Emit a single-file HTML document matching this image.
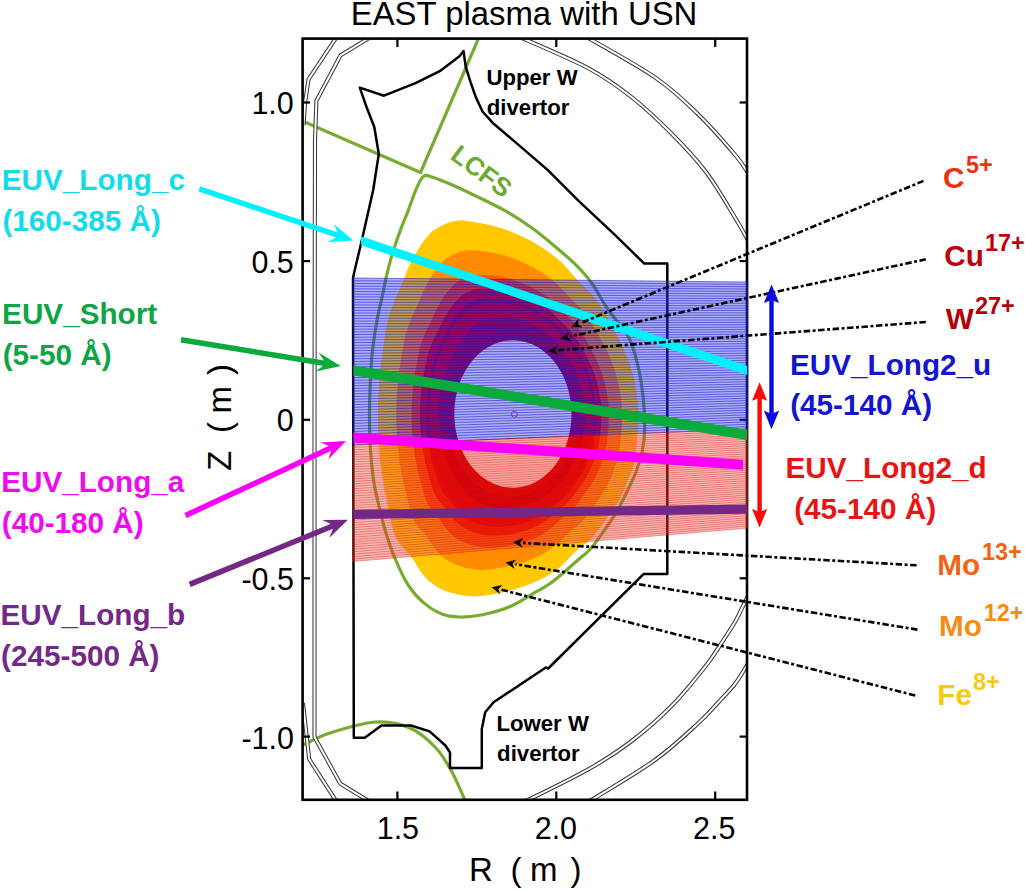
<!DOCTYPE html>
<html><head><meta charset="utf-8"><style>
html,body{margin:0;padding:0;background:#fff;width:1025px;height:890px;overflow:hidden}
svg{display:block}
text{font-family:"Liberation Sans",sans-serif}
.b{font-weight:bold}
</style></head><body>
<svg width="1025" height="890" viewBox="0 0 1025 890">
<defs><clipPath id="cb"><path d="M352.5,278.0 L748.3,282.0 L748.3,429.0 L352.5,445.0 Z"/></clipPath><clipPath id="cr"><path d="M352.5,445.0 L748.3,429.0 L748.3,528.0 L352.5,561.5 Z"/></clipPath><clipPath id="ax"><rect x="303" y="39" width="444" height="761"/></clipPath></defs>
<path d="M638.1,414.0 L637.9,407.5 L637.4,400.9 L636.7,394.4 L635.6,387.9 L634.3,381.5 L632.8,375.1 L630.9,368.7 L628.9,362.4 L626.5,356.2 L623.9,350.0 L621.1,343.8 L618.0,337.7 L614.8,331.5 L611.5,325.3 L608.0,319.0 L604.3,312.6 L600.3,306.2 L595.9,299.9 L591.0,293.9 L585.5,288.4 L579.8,282.9 L574.2,276.6 L568.4,269.7 L562.1,262.8 L555.1,256.8 L547.6,251.2 L539.6,246.0 L531.2,241.1 L522.3,236.6 L513.0,232.4 L503.3,228.7 L493.2,225.7 L482.8,223.4 L472.1,221.7 L461.1,220.3 L450.6,221.8 L440.8,225.9 L431.8,231.6 L424.4,240.1 L418.0,249.4 L412.5,259.2 L407.7,269.1 L403.9,279.3 L400.2,288.7 L396.2,297.2 L392.7,305.7 L389.6,314.1 L387.4,322.7 L385.8,331.4 L384.5,339.8 L383.3,347.9 L382.2,355.8 L381.2,363.4 L380.4,370.9 L379.7,378.3 L379.2,385.6 L378.7,392.7 L378.3,399.8 L378.1,406.9 L378.0,414.0 L378.0,421.1 L378.1,428.2 L378.4,435.3 L378.8,442.5 L379.4,449.8 L380.1,457.2 L380.9,464.7 L381.9,472.4 L383.0,480.2 L384.4,488.2 L386.0,496.5 L387.9,504.9 L389.8,513.8 L391.6,523.3 L394.0,533.0 L398.1,541.6 L404.0,548.6 L410.3,555.3 L415.7,563.8 L421.4,572.7 L428.2,580.4 L436.2,586.5 L445.1,590.9 L454.6,593.7 L464.3,595.7 L474.2,596.6 L484.2,595.8 L494.1,594.2 L503.7,592.2 L513.0,589.8 L522.1,586.9 L530.8,583.7 L539.3,580.1 L547.4,575.9 L555.1,571.1 L562.1,565.2 L568.5,558.7 L574.6,552.3 L580.8,547.1 L587.3,542.6 L592.8,536.8 L597.6,530.4 L602.1,524.0 L606.5,517.9 L610.9,511.9 L615.2,506.0 L619.1,499.9 L622.4,493.5 L625.3,486.9 L627.9,480.3 L630.5,473.9 L632.9,467.4 L634.4,460.6 L635.4,453.8 L636.2,447.0 L636.8,440.3 L637.3,433.7 L637.7,427.1 L638.0,420.6Z" fill="#FFC800"/>
<path d="M622.1,414.0 L621.9,408.3 L621.6,402.6 L620.9,396.9 L620.1,391.2 L619.0,385.6 L617.6,380.0 L616.1,374.4 L614.3,368.9 L612.3,363.4 L610.1,358.0 L607.6,352.6 L605.0,347.2 L602.2,341.8 L599.3,336.3 L596.2,330.8 L592.9,325.3 L589.4,319.7 L585.5,314.2 L581.2,309.0 L576.4,304.3 L571.4,299.5 L566.4,294.1 L561.2,288.4 L555.7,282.7 L549.5,277.8 L542.9,273.2 L536.0,269.0 L528.7,265.0 L521.0,261.5 L513.0,258.3 L504.7,255.5 L496.1,253.3 L487.3,251.8 L478.3,250.7 L469.1,250.0 L460.2,251.5 L452.0,255.1 L444.4,259.9 L438.0,266.9 L432.5,274.6 L427.7,282.6 L423.5,290.8 L420.0,299.2 L416.7,307.1 L413.2,314.2 L410.1,321.4 L407.4,328.5 L405.3,335.8 L403.8,343.1 L402.5,350.2 L401.4,357.1 L400.3,363.8 L399.3,370.4 L398.6,376.8 L397.9,383.2 L397.4,389.4 L397.0,395.6 L396.6,401.8 L396.4,407.9 L396.3,414.0 L396.3,420.1 L396.5,426.2 L396.7,432.4 L397.1,438.6 L397.7,444.9 L398.3,451.3 L399.1,457.7 L400.1,464.3 L401.2,471.0 L402.5,477.8 L404.0,484.8 L405.7,492.0 L407.5,499.4 L409.3,507.4 L411.6,515.4 L415.1,522.7 L420.1,528.7 L425.5,534.5 L430.1,541.6 L435.1,548.9 L440.9,555.4 L447.8,560.5 L455.3,564.4 L463.3,567.0 L471.5,568.9 L479.9,569.9 L488.4,569.6 L496.8,568.5 L505.0,567.1 L513.0,565.3 L520.8,563.1 L528.4,560.5 L535.7,557.6 L542.8,554.2 L549.5,550.1 L555.7,545.3 L561.3,539.9 L566.7,534.6 L572.1,530.1 L577.7,526.1 L582.5,521.0 L586.8,515.5 L590.8,510.0 L594.6,504.7 L598.4,499.4 L602.1,494.2 L605.4,488.8 L608.3,483.2 L610.8,477.5 L613.1,471.8 L615.3,466.1 L617.3,460.5 L618.7,454.6 L619.6,448.6 L620.3,442.8 L620.9,436.9 L621.4,431.2 L621.8,425.4 L622.0,419.7Z" fill="#FF8C00"/>
<path d="M608.8,414.0 L608.7,409.0 L608.3,404.0 L607.8,399.0 L607.1,394.0 L606.1,389.0 L605.0,384.1 L603.7,379.2 L602.2,374.3 L600.4,369.4 L598.5,364.6 L596.4,359.8 L594.1,355.1 L591.7,350.3 L589.1,345.5 L586.4,340.6 L583.4,335.8 L580.3,330.9 L576.8,326.2 L573.0,321.6 L568.7,317.4 L564.3,313.3 L559.9,308.8 L555.2,304.0 L550.3,299.3 L544.8,295.2 L539.0,291.5 L532.9,288.1 L526.6,285.0 L519.9,282.2 L513.0,279.8 L505.9,277.8 L498.5,276.3 L491.1,275.4 L483.4,274.9 L475.7,274.8 L468.3,276.3 L461.3,279.4 L454.9,283.5 L449.4,289.2 L444.6,295.5 L440.4,302.1 L436.6,308.9 L433.5,315.8 L430.5,322.3 L427.4,328.4 L424.6,334.4 L422.2,340.5 L420.3,346.6 L418.8,352.8 L417.6,358.9 L416.4,364.8 L415.4,370.5 L414.5,376.2 L413.7,381.7 L413.1,387.2 L412.6,392.7 L412.2,398.0 L411.8,403.4 L411.6,408.7 L411.6,414.0 L411.6,419.3 L411.7,424.6 L412.0,430.0 L412.4,435.4 L412.9,440.8 L413.6,446.3 L414.3,451.9 L415.2,457.5 L416.3,463.3 L417.5,469.1 L418.9,475.1 L420.6,481.2 L422.3,487.5 L424.0,494.1 L426.2,500.8 L429.3,507.0 L433.5,512.2 L438.1,517.1 L442.2,523.1 L446.5,529.1 L451.6,534.6 L457.4,538.9 L463.7,542.3 L470.5,544.7 L477.5,546.5 L484.6,547.6 L491.8,547.7 L499.0,547.1 L506.1,546.2 L513.0,544.9 L519.8,543.2 L526.4,541.2 L532.8,538.9 L538.9,536.0 L544.8,532.7 L550.3,528.7 L555.3,524.2 L560.1,519.8 L564.9,515.8 L569.7,512.3 L574.0,507.9 L577.8,503.1 L581.3,498.3 L584.7,493.6 L588.0,489.0 L591.2,484.4 L594.1,479.6 L596.6,474.7 L598.8,469.7 L600.7,464.7 L602.7,459.7 L604.4,454.7 L605.6,449.5 L606.5,444.4 L607.2,439.2 L607.7,434.1 L608.2,429.1 L608.5,424.0 L608.7,419.0Z" fill="#FF5500"/>
<path d="M601.4,414.0 L601.3,409.4 L601.1,404.7 L600.6,400.1 L599.9,395.5 L599.1,390.9 L598.1,386.4 L596.9,381.8 L595.5,377.3 L593.9,372.8 L592.2,368.3 L590.2,363.8 L588.1,359.4 L585.9,355.0 L583.5,350.5 L580.9,346.1 L578.2,341.6 L575.3,337.1 L572.0,332.7 L568.5,328.6 L564.6,324.7 L560.5,320.9 L556.3,316.8 L552.0,312.5 L547.3,308.4 L542.3,304.8 L536.9,301.6 L531.3,298.6 L525.4,296.0 L519.3,293.7 L513.0,291.7 L506.5,290.1 L499.9,289.0 L493.1,288.4 L486.3,288.2 L479.3,288.4 L472.7,289.9 L466.5,292.8 L460.7,296.5 L455.7,301.5 L451.3,307.1 L447.3,312.9 L443.8,318.8 L440.9,324.9 L438.0,330.8 L435.2,336.2 L432.6,341.6 L430.3,347.1 L428.5,352.6 L427.1,358.2 L425.8,363.7 L424.7,369.0 L423.7,374.2 L422.8,379.4 L422.1,384.4 L421.5,389.5 L420.9,394.4 L420.5,399.4 L420.2,404.2 L420.0,409.1 L419.9,414.0 L420.0,418.9 L420.1,423.8 L420.4,428.7 L420.8,433.6 L421.3,438.6 L421.9,443.6 L422.7,448.7 L423.6,453.8 L424.6,459.0 L425.8,464.4 L427.2,469.7 L428.7,475.2 L430.4,480.9 L432.1,486.8 L434.2,492.8 L437.1,498.3 L440.9,503.0 L445.0,507.6 L448.8,512.9 L452.8,518.3 L457.4,523.1 L462.7,527.0 L468.4,530.2 L474.5,532.5 L480.8,534.2 L487.2,535.4 L493.7,535.6 L500.2,535.3 L506.7,534.7 L513.0,533.7 L519.2,532.3 L525.3,530.6 L531.1,528.5 L536.8,526.1 L542.2,523.1 L547.3,519.6 L552.0,515.6 L556.5,511.6 L560.9,508.0 L565.3,504.7 L569.3,500.7 L572.8,496.3 L576.1,491.9 L579.2,487.6 L582.3,483.3 L585.2,479.0 L587.8,474.6 L590.1,470.0 L592.1,465.4 L593.9,460.7 L595.7,456.1 L597.3,451.5 L598.4,446.8 L599.2,442.0 L599.9,437.3 L600.4,432.6 L600.9,427.9 L601.2,423.3 L601.4,418.6Z" fill="#F01E00"/>
<path d="M596.1,414.0 L596.0,409.6 L595.8,405.3 L595.3,401.0 L594.7,396.6 L593.9,392.3 L593.0,388.0 L591.9,383.7 L590.6,379.4 L589.2,375.2 L587.5,371.0 L585.7,366.8 L583.8,362.6 L581.7,358.4 L579.4,354.2 L577.0,350.0 L574.4,345.8 L571.6,341.6 L568.6,337.5 L565.2,333.6 L561.5,330.0 L557.6,326.4 L553.7,322.6 L549.6,318.8 L545.1,315.1 L540.4,311.8 L535.3,308.9 L530.1,306.3 L524.6,303.9 L518.9,302.0 L513.0,300.3 L507.0,299.0 L500.8,298.2 L494.6,297.9 L488.3,297.9 L482.0,298.3 L475.9,299.8 L470.2,302.5 L464.9,305.9 L460.3,310.5 L456.1,315.5 L452.4,320.7 L449.1,326.1 L446.2,331.6 L443.5,336.9 L440.8,341.8 L438.4,346.8 L436.3,351.9 L434.5,357.0 L433.1,362.1 L431.8,367.1 L430.7,372.1 L429.7,376.9 L428.8,381.7 L428.1,386.4 L427.5,391.1 L427.0,395.7 L426.6,400.3 L426.3,404.9 L426.1,409.4 L426.1,414.0 L426.1,418.6 L426.3,423.1 L426.5,427.7 L426.9,432.3 L427.4,436.9 L428.0,441.6 L428.8,446.3 L429.6,451.1 L430.6,456.0 L431.8,460.9 L433.2,465.9 L434.7,470.9 L436.3,476.1 L438.0,481.5 L440.0,487.0 L442.8,492.0 L446.3,496.4 L450.1,500.6 L453.6,505.5 L457.4,510.3 L461.7,514.8 L466.5,518.4 L471.8,521.3 L477.4,523.6 L483.2,525.3 L489.1,526.5 L495.1,526.9 L501.1,526.8 L507.1,526.3 L513.0,525.5 L518.8,524.4 L524.4,522.9 L530.0,521.0 L535.3,518.8 L540.4,516.1 L545.2,513.0 L549.6,509.4 L553.8,505.7 L558.0,502.3 L562.2,499.2 L565.9,495.4 L569.2,491.3 L572.3,487.2 L575.3,483.2 L578.1,479.1 L580.8,475.0 L583.3,470.9 L585.4,466.6 L587.3,462.3 L589.0,457.9 L590.7,453.6 L592.1,449.2 L593.2,444.8 L594.0,440.3 L594.6,435.9 L595.2,431.5 L595.6,427.1 L595.9,422.7 L596.1,418.4Z" fill="#E10000"/>
<path d="M593.5,414.0 L593.4,409.8 L593.1,405.6 L592.7,401.4 L592.1,397.2 L591.4,393.0 L590.5,388.8 L589.4,384.7 L588.2,380.5 L586.8,376.4 L585.2,372.3 L583.5,368.2 L581.6,364.1 L579.6,360.1 L577.4,356.0 L575.0,352.0 L572.5,347.9 L569.8,343.9 L566.8,339.9 L563.6,336.1 L560.0,332.6 L556.2,329.2 L552.4,325.6 L548.4,321.9 L544.1,318.4 L539.4,315.3 L534.6,312.5 L529.5,310.1 L524.1,307.9 L518.7,306.1 L513.0,304.6 L507.2,303.5 L501.3,302.8 L495.4,302.6 L489.4,302.7 L483.3,303.2 L477.5,304.8 L472.1,307.4 L467.0,310.7 L462.5,314.9 L458.5,319.7 L454.9,324.6 L451.7,329.7 L448.9,334.9 L446.3,339.9 L443.7,344.7 L441.3,349.5 L439.2,354.3 L437.5,359.1 L436.1,364.0 L434.8,368.9 L433.7,373.6 L432.8,378.3 L431.9,382.9 L431.2,387.4 L430.6,391.9 L430.1,396.4 L429.7,400.8 L429.4,405.2 L429.2,409.6 L429.1,414.0 L429.2,418.4 L429.3,422.8 L429.6,427.2 L429.9,431.7 L430.4,436.1 L431.1,440.6 L431.8,445.2 L432.7,449.8 L433.7,454.4 L434.8,459.1 L436.1,463.9 L437.6,468.7 L439.3,473.7 L441.0,478.9 L443.0,484.0 L445.6,488.9 L449.0,493.1 L452.6,497.2 L456.0,501.8 L459.7,506.4 L463.8,510.6 L468.4,514.1 L473.5,516.9 L478.8,519.1 L484.4,520.8 L490.0,522.0 L495.8,522.5 L501.6,522.5 L507.3,522.1 L513.0,521.4 L518.6,520.4 L524.0,519.0 L529.4,517.3 L534.5,515.2 L539.4,512.7 L544.1,509.6 L548.4,506.2 L552.5,502.7 L556.6,499.5 L560.6,496.4 L564.1,492.8 L567.4,488.9 L570.4,484.9 L573.3,480.9 L576.0,477.0 L578.6,473.1 L581.0,469.0 L583.1,464.9 L584.9,460.7 L586.5,456.5 L588.1,452.3 L589.5,448.1 L590.6,443.8 L591.3,439.5 L592.0,435.2 L592.5,430.9 L592.9,426.7 L593.2,422.4 L593.4,418.2Z" fill="#D70005"/>
<path d="M584.8,414.0 L584.7,410.2 L584.5,406.5 L584.2,402.7 L583.7,399.0 L583.0,395.2 L582.3,391.5 L581.4,387.8 L580.3,384.0 L579.1,380.3 L577.7,376.6 L576.2,372.9 L574.6,369.3 L572.7,365.6 L570.8,362.0 L568.7,358.3 L566.4,354.7 L563.9,351.2 L561.2,347.7 L558.2,344.3 L555.0,341.2 L551.7,338.1 L548.1,335.1 L544.5,332.0 L540.6,329.2 L536.4,326.7 L532.0,324.4 L527.5,322.5 L522.8,320.9 L517.9,319.6 L513.0,318.6 L508.0,318.0 L502.9,317.8 L497.8,318.0 L492.7,318.5 L487.6,319.3 L482.7,320.9 L478.1,323.2 L473.8,326.0 L469.9,329.5 L466.4,333.3 L463.2,337.3 L460.3,341.4 L457.7,345.7 L455.2,349.8 L452.9,353.9 L450.8,358.0 L448.8,362.0 L447.2,366.2 L445.8,370.4 L444.6,374.5 L443.5,378.6 L442.6,382.6 L441.7,386.6 L441.0,390.6 L440.4,394.6 L439.9,398.5 L439.5,402.4 L439.3,406.3 L439.1,410.1 L439.0,414.0 L439.1,417.9 L439.2,421.8 L439.5,425.6 L439.9,429.5 L440.3,433.5 L440.9,437.4 L441.7,441.4 L442.5,445.4 L443.5,449.4 L444.6,453.5 L445.9,457.6 L447.3,461.7 L448.9,465.9 L450.5,470.2 L452.4,474.6 L454.8,478.6 L457.7,482.3 L460.8,485.9 L463.8,489.7 L467.1,493.5 L470.7,497.0 L474.7,500.0 L479.0,502.6 L483.6,504.6 L488.3,506.3 L493.1,507.6 L498.1,508.3 L503.1,508.6 L508.0,508.6 L513.0,508.2 L517.9,507.5 L522.7,506.5 L527.4,505.1 L532.0,503.4 L536.4,501.3 L540.6,498.9 L544.5,496.0 L548.2,493.1 L551.9,490.3 L555.4,487.4 L558.6,484.2 L561.5,480.8 L564.3,477.3 L566.8,473.8 L569.3,470.3 L571.5,466.7 L573.6,463.1 L575.4,459.4 L577.1,455.6 L578.5,451.8 L579.9,448.1 L581.1,444.3 L582.0,440.5 L582.8,436.7 L583.4,432.9 L583.9,429.1 L584.3,425.3 L584.6,421.5 L584.8,417.8Z" fill="#CD000F"/>
<path d="M577.5,414.0 L577.4,410.6 L577.2,407.2 L577.0,403.9 L576.5,400.5 L576.0,397.1 L575.3,393.7 L574.5,390.4 L573.6,387.0 L572.6,383.6 L571.4,380.3 L570.0,377.0 L568.6,373.6 L567.0,370.3 L565.2,367.0 L563.3,363.7 L561.2,360.5 L558.9,357.3 L556.4,354.2 L553.7,351.3 L550.9,348.4 L547.8,345.7 L544.6,343.1 L541.2,340.6 L537.6,338.3 L533.8,336.3 L529.9,334.5 L525.8,333.0 L521.6,331.9 L517.3,331.0 L513.0,330.5 L508.6,330.3 L504.2,330.5 L499.8,331.0 L495.5,331.8 L491.3,332.9 L487.2,334.5 L483.3,336.6 L479.6,339.0 L476.2,341.8 L473.1,344.8 L470.2,348.0 L467.5,351.4 L465.1,354.8 L462.8,358.3 L460.7,361.7 L458.7,365.1 L457.0,368.6 L455.4,372.2 L454.1,375.7 L452.9,379.3 L451.8,382.8 L450.9,386.3 L450.0,389.8 L449.3,393.3 L448.8,396.8 L448.3,400.2 L447.9,403.7 L447.6,407.1 L447.5,410.6 L447.4,414.0 L447.5,417.4 L447.6,420.9 L447.9,424.3 L448.3,427.8 L448.7,431.2 L449.3,434.7 L450.0,438.2 L450.8,441.7 L451.8,445.2 L452.9,448.7 L454.1,452.2 L455.5,455.8 L457.0,459.4 L458.6,462.9 L460.5,466.5 L462.6,470.0 L465.1,473.2 L467.7,476.3 L470.4,479.5 L473.4,482.7 L476.5,485.6 L480.0,488.1 L483.7,490.4 L487.5,492.4 L491.6,494.0 L495.7,495.3 L500.0,496.2 L504.3,496.8 L508.6,497.1 L513.0,497.0 L517.3,496.6 L521.6,495.8 L525.8,494.8 L529.9,493.4 L533.8,491.7 L537.6,489.7 L541.2,487.4 L544.6,485.0 L547.9,482.4 L551.0,479.8 L553.9,477.0 L556.6,474.0 L559.0,470.9 L561.4,467.7 L563.5,464.5 L565.5,461.3 L567.3,458.0 L569.0,454.7 L570.4,451.3 L571.7,447.9 L572.9,444.5 L574.0,441.2 L574.9,437.7 L575.6,434.3 L576.2,430.9 L576.6,427.5 L577.0,424.1 L577.3,420.8 L577.4,417.4Z" fill="#C8000A"/>
<path d="M571.5,414.0 L571.4,410.9 L571.3,407.9 L571.0,404.8 L570.7,401.7 L570.2,398.7 L569.6,395.6 L569.0,392.5 L568.2,389.4 L567.2,386.4 L566.2,383.3 L565.0,380.2 L563.7,377.2 L562.2,374.1 L560.6,371.1 L558.8,368.2 L556.9,365.3 L554.8,362.4 L552.5,359.6 L550.1,356.9 L547.4,354.4 L544.6,351.9 L541.6,349.7 L538.5,347.6 L535.2,345.7 L531.7,344.1 L528.1,342.7 L524.5,341.7 L520.7,340.9 L516.9,340.4 L513.0,340.2 L509.1,340.4 L505.3,340.8 L501.5,341.6 L497.8,342.7 L494.3,344.0 L490.8,345.7 L487.5,347.5 L484.3,349.6 L481.3,351.8 L478.5,354.3 L475.9,356.8 L473.4,359.5 L471.1,362.3 L469.0,365.1 L467.0,368.0 L465.3,371.0 L463.6,374.0 L462.2,377.1 L460.8,380.1 L459.6,383.2 L458.6,386.3 L457.7,389.4 L456.9,392.4 L456.2,395.5 L455.6,398.6 L455.1,401.7 L454.8,404.8 L454.5,407.9 L454.4,410.9 L454.3,414.0 L454.4,417.1 L454.5,420.1 L454.8,423.2 L455.1,426.3 L455.6,429.4 L456.2,432.5 L456.9,435.6 L457.7,438.6 L458.6,441.7 L459.6,444.8 L460.8,447.9 L462.2,450.9 L463.6,454.0 L465.3,457.0 L467.0,460.0 L469.0,462.9 L471.1,465.7 L473.4,468.5 L475.9,471.2 L478.5,473.7 L481.3,476.2 L484.3,478.4 L487.5,480.5 L490.8,482.3 L494.3,484.0 L497.8,485.3 L501.5,486.4 L505.3,487.2 L509.1,487.6 L513.0,487.8 L516.9,487.6 L520.7,487.1 L524.5,486.3 L528.1,485.3 L531.7,483.9 L535.2,482.3 L538.5,480.4 L541.6,478.3 L544.6,476.1 L547.4,473.6 L550.1,471.1 L552.5,468.4 L554.8,465.6 L556.9,462.7 L558.8,459.8 L560.6,456.9 L562.2,453.9 L563.7,450.8 L565.0,447.8 L566.2,444.7 L567.2,441.6 L568.2,438.6 L569.0,435.5 L569.6,432.4 L570.2,429.3 L570.7,426.3 L571.0,423.2 L571.3,420.1 L571.4,417.1Z" fill="#fff"/>
<g clip-path="url(#ax)">
<path d="M421.5,178.5 C421.0,179.3 419.9,180.9 418.7,183.6 C417.4,186.3 415.8,189.9 414.0,194.6 C412.2,199.3 409.8,206.4 407.7,211.9 C405.6,217.4 403.5,222.1 401.4,227.6 C399.3,233.1 397.0,239.4 395.2,244.9 C393.4,250.4 392.0,254.8 390.4,260.6 C388.8,266.4 387.1,273.2 385.7,279.5 C384.3,285.8 383.2,292.0 381.8,298.4 C380.4,304.8 378.8,311.3 377.5,318.0 C376.2,324.7 375.0,331.7 374.0,338.7 C373.0,345.7 372.3,351.4 371.6,360.0 C370.9,368.6 370.4,380.0 370.0,390.0 C369.6,400.0 369.4,410.0 369.5,420.0 C369.6,430.0 369.8,440.0 370.5,450.0 C371.2,460.0 372.2,471.0 373.5,480.0 C374.8,489.0 376.5,495.5 378.5,504.0 C380.5,512.5 382.6,521.9 385.4,531.0 C388.1,540.1 391.1,549.3 395.0,558.5 C398.9,567.7 403.9,578.5 408.8,586.0 C413.7,593.5 418.9,598.7 424.4,603.4 C429.9,608.1 436.1,611.7 442.0,614.0 C447.9,616.3 453.0,616.8 459.5,617.0 C466.0,617.2 472.9,616.6 481.0,615.0 C489.1,613.4 499.4,611.0 508.3,607.3 C517.2,603.6 527.8,596.6 534.6,592.7 C541.4,588.8 544.4,587.4 549.3,584.0 C554.2,580.6 559.2,576.2 564.0,572.2 C568.8,568.2 573.6,563.9 578.0,560.0 C582.4,556.1 586.7,552.9 590.4,549.0 C594.1,545.1 596.6,541.1 600.0,536.4 C603.4,531.7 607.6,525.8 611.0,520.6 C614.4,515.4 617.4,510.3 620.3,505.0 C623.2,499.7 625.6,494.5 628.2,489.0 C630.8,483.5 633.6,478.3 636.0,472.0 C638.4,465.7 640.8,458.3 642.3,451.0 C643.8,443.7 644.6,437.2 644.7,428.0 C644.8,418.8 644.2,406.7 643.0,396.0 C641.8,385.3 640.0,374.0 637.5,364.0 C635.0,354.0 633.0,345.2 628.0,336.0 C623.0,326.8 613.6,317.8 607.6,309.0 C601.6,300.2 597.3,290.9 592.0,283.5 C586.7,276.1 581.9,270.9 575.6,264.7 C569.4,258.4 561.9,252.2 554.5,246.0 C547.1,239.8 539.2,233.2 531.0,227.3 C522.8,221.5 515.5,216.6 505.4,210.9 C495.3,205.2 479.4,197.8 470.2,193.3 C461.0,188.8 456.4,186.7 450.0,184.0 C443.6,181.3 436.1,178.4 432.0,177.0 C427.9,175.6 427.2,175.1 425.5,175.3 C423.8,175.6 422.2,178.0 421.5,178.5 " fill="none" stroke="#77AC30" stroke-width="3.2"/>
<path d="M300,120 L420.5,172.5 L480,35" fill="none" stroke="#77AC30" stroke-width="3.2" stroke-linejoin="round"/>
<path d="M300.0,746.5 C305.0,744.2 317.3,737.1 330.0,733.0 C342.7,728.9 362.7,722.8 376.0,722.0 C389.3,721.2 400.2,723.8 410.0,728.0 C419.8,732.2 428.0,739.7 435.0,747.0 C442.0,754.3 446.7,762.3 452.0,772.0 C457.3,781.7 464.5,799.5 467.0,805.0 " fill="none" stroke="#77AC30" stroke-width="3.2"/>
<path d="M338.0,35.0 L308.5,79.4 L305.0,103.0 L303.5,125.0" fill="none" stroke="#3a3a3a" stroke-width="4.1" stroke-linejoin="round"/>
<path d="M338.0,35.0 L308.5,79.4 L305.0,103.0 L303.5,125.0" fill="none" stroke="#fff" stroke-width="2.0" stroke-linejoin="round"/>
<path d="M303.0,703.0 L309.2,759.1 L338.0,804.0" fill="none" stroke="#3a3a3a" stroke-width="4.1" stroke-linejoin="round"/>
<path d="M303.0,703.0 L309.2,759.1 L338.0,804.0" fill="none" stroke="#fff" stroke-width="2.0" stroke-linejoin="round"/>
<path d="M374.0,35.0 L340.6,55.3 L316.4,100.8 L315.0,140.0 L314.5,420.0 L314.5,737.0 L340.2,783.6 L372.0,803.0" fill="none" stroke="#3a3a3a" stroke-width="4.1" stroke-linejoin="round"/>
<path d="M374.0,35.0 L340.6,55.3 L316.4,100.8 L315.0,140.0 L314.5,420.0 L314.5,737.0 L340.2,783.6 L372.0,803.0" fill="none" stroke="#fff" stroke-width="2.0" stroke-linejoin="round"/>
<path d="M515.0,35.0 C527.1,40.5 568.1,57.5 587.5,67.8 C606.9,78.1 617.5,86.1 631.4,97.0 C645.3,107.9 658.6,120.5 671.0,133.0 C683.4,145.5 695.3,157.8 706.0,172.0 C716.7,186.2 728.0,206.0 735.3,218.0 C742.6,230.0 747.5,239.7 750.0,244.0 " fill="none" stroke="#3a3a3a" stroke-width="4.1" stroke-linejoin="round"/>
<path d="M515.0,35.0 C527.1,40.5 568.1,57.5 587.5,67.8 C606.9,78.1 617.5,86.1 631.4,97.0 C645.3,107.9 658.6,120.5 671.0,133.0 C683.4,145.5 695.3,157.8 706.0,172.0 C716.7,186.2 728.0,206.0 735.3,218.0 C742.6,230.0 747.5,239.7 750.0,244.0 " fill="none" stroke="#fff" stroke-width="2.0" stroke-linejoin="round"/>
<path d="M583.0,35.0 C595.0,42.1 636.0,64.3 655.0,77.4 C674.0,90.5 683.9,100.5 697.3,113.4 C710.7,126.3 726.5,144.6 735.3,155.0 C744.1,165.4 747.5,172.5 750.0,176.0 " fill="none" stroke="#3a3a3a" stroke-width="4.1" stroke-linejoin="round"/>
<path d="M583.0,35.0 C595.0,42.1 636.0,64.3 655.0,77.4 C674.0,90.5 683.9,100.5 697.3,113.4 C710.7,126.3 726.5,144.6 735.3,155.0 C744.1,165.4 747.5,172.5 750.0,176.0 " fill="none" stroke="#fff" stroke-width="2.0" stroke-linejoin="round"/>
<path d="M520.0,804.0 C531.3,798.2 569.4,780.0 588.0,769.5 C606.6,759.0 617.7,751.7 631.7,741.0 C645.7,730.3 659.7,718.0 672.0,705.5 C684.3,693.0 697.6,676.2 705.5,666.3 C713.4,656.4 714.7,653.4 719.6,646.0 C724.5,638.6 731.0,628.8 735.1,621.8 C739.2,614.8 741.5,609.0 744.0,604.0 C746.5,599.0 749.0,594.0 750.0,592.0 " fill="none" stroke="#3a3a3a" stroke-width="4.1" stroke-linejoin="round"/>
<path d="M520.0,804.0 C531.3,798.2 569.4,780.0 588.0,769.5 C606.6,759.0 617.7,751.7 631.7,741.0 C645.7,730.3 659.7,718.0 672.0,705.5 C684.3,693.0 697.6,676.2 705.5,666.3 C713.4,656.4 714.7,653.4 719.6,646.0 C724.5,638.6 731.0,628.8 735.1,621.8 C739.2,614.8 741.5,609.0 744.0,604.0 C746.5,599.0 749.0,594.0 750.0,592.0 " fill="none" stroke="#fff" stroke-width="2.0" stroke-linejoin="round"/>
<path d="M585.0,804.0 C596.4,796.8 634.9,774.3 653.6,761.0 C672.3,747.7 686.4,734.0 697.4,724.0 C708.4,714.0 713.4,707.6 719.6,701.0 C725.8,694.4 730.2,690.0 734.5,684.5 C738.8,679.0 742.7,672.1 745.3,668.0 C747.9,663.9 749.2,661.3 750.0,660.0 " fill="none" stroke="#3a3a3a" stroke-width="4.1" stroke-linejoin="round"/>
<path d="M585.0,804.0 C596.4,796.8 634.9,774.3 653.6,761.0 C672.3,747.7 686.4,734.0 697.4,724.0 C708.4,714.0 713.4,707.6 719.6,701.0 C725.8,694.4 730.2,690.0 734.5,684.5 C738.8,679.0 742.7,672.1 745.3,668.0 C747.9,663.9 749.2,661.3 750.0,660.0 " fill="none" stroke="#fff" stroke-width="2.0" stroke-linejoin="round"/>
</g>
<path d="M353.0,278.0 L354.0,273.2 L362.0,239.5 L373.2,190.0 L378.8,154.0 L374.3,127.0 L367.0,108.3 L359.8,87.6 L384.0,95.7 L415.5,83.1 L440.7,70.6 L459.5,56.2 L463.5,51.1 L465.8,67.0 L470.3,81.3 L475.7,96.9 L482.5,111.5 L493.7,123.8 L516.2,142.9 L547.6,169.9 L579.1,201.3 L612.8,232.8 L644.3,263.6 L667.3,263.6 L667.3,574.1 L643.5,574.1 L548.2,668.5 L545.8,667.5 L493.6,702.2 L485.2,712.3 L481.8,729.0 L481.8,767.9 L450.0,767.9 L450.0,752.5 L445.4,745.5 L429.6,731.4 L411.0,725.5 L381.5,725.5 L364.7,737.8 L353.8,737.8 L353.0,278.0" fill="none" stroke="#000" stroke-width="2.5" stroke-linejoin="round"/>
<rect x="302.6" y="38.6" width="444.4" height="761.2" fill="none" stroke="#000" stroke-width="2.6"/>
<line x1="302.6" y1="102.5" x2="310" y2="102.5" stroke="#000" stroke-width="2.2"/>
<line x1="747" y1="102.5" x2="739.6" y2="102.5" stroke="#000" stroke-width="2.2"/>
<line x1="302.6" y1="261.1" x2="310" y2="261.1" stroke="#000" stroke-width="2.2"/>
<line x1="747" y1="261.1" x2="739.6" y2="261.1" stroke="#000" stroke-width="2.2"/>
<line x1="302.6" y1="419.8" x2="310" y2="419.8" stroke="#000" stroke-width="2.2"/>
<line x1="747" y1="419.8" x2="739.6" y2="419.8" stroke="#000" stroke-width="2.2"/>
<line x1="302.6" y1="578.3" x2="310" y2="578.3" stroke="#000" stroke-width="2.2"/>
<line x1="747" y1="578.3" x2="739.6" y2="578.3" stroke="#000" stroke-width="2.2"/>
<line x1="302.6" y1="736.6" x2="310" y2="736.6" stroke="#000" stroke-width="2.2"/>
<line x1="747" y1="736.6" x2="739.6" y2="736.6" stroke="#000" stroke-width="2.2"/>
<line x1="397.4" y1="799.8" x2="397.4" y2="791.5" stroke="#000" stroke-width="2.2"/>
<line x1="397.4" y1="38.6" x2="397.4" y2="47" stroke="#000" stroke-width="2.2"/>
<line x1="556.3" y1="799.8" x2="556.3" y2="791.5" stroke="#000" stroke-width="2.2"/>
<line x1="556.3" y1="38.6" x2="556.3" y2="47" stroke="#000" stroke-width="2.2"/>
<line x1="715.2" y1="799.8" x2="715.2" y2="791.5" stroke="#000" stroke-width="2.2"/>
<line x1="715.2" y1="38.6" x2="715.2" y2="47" stroke="#000" stroke-width="2.2"/>
<path d="M352.5,278.0 L748.3,282.0 L748.3,429.0 L352.5,445.0Z" fill="rgba(45,45,250,0.39)"/>
<path d="M352.5,445.0 L748.3,429.0 L748.3,528.0 L352.5,561.5Z" fill="rgba(255,55,45,0.36)"/>
<g clip-path="url(#cb)">
<path d="M638.1,414.0 L637.9,407.5 L637.4,400.9 L636.7,394.4 L635.6,387.9 L634.3,381.5 L632.8,375.1 L630.9,368.7 L628.9,362.4 L626.5,356.2 L623.9,350.0 L621.1,343.8 L618.0,337.7 L614.8,331.5 L611.5,325.3 L608.0,319.0 L604.3,312.6 L600.3,306.2 L595.9,299.9 L591.0,293.9 L585.5,288.4 L579.8,282.9 L574.2,276.6 L568.4,269.7 L562.1,262.8 L555.1,256.8 L547.6,251.2 L539.6,246.0 L531.2,241.1 L522.3,236.6 L513.0,232.4 L503.3,228.7 L493.2,225.7 L482.8,223.4 L472.1,221.7 L461.1,220.3 L450.6,221.8 L440.8,225.9 L431.8,231.6 L424.4,240.1 L418.0,249.4 L412.5,259.2 L407.7,269.1 L403.9,279.3 L400.2,288.7 L396.2,297.2 L392.7,305.7 L389.6,314.1 L387.4,322.7 L385.8,331.4 L384.5,339.8 L383.3,347.9 L382.2,355.8 L381.2,363.4 L380.4,370.9 L379.7,378.3 L379.2,385.6 L378.7,392.7 L378.3,399.8 L378.1,406.9 L378.0,414.0 L378.0,421.1 L378.1,428.2 L378.4,435.3 L378.8,442.5 L379.4,449.8 L380.1,457.2 L380.9,464.7 L381.9,472.4 L383.0,480.2 L384.4,488.2 L386.0,496.5 L387.9,504.9 L389.8,513.8 L391.6,523.3 L394.0,533.0 L398.1,541.6 L404.0,548.6 L410.3,555.3 L415.7,563.8 L421.4,572.7 L428.2,580.4 L436.2,586.5 L445.1,590.9 L454.6,593.7 L464.3,595.7 L474.2,596.6 L484.2,595.8 L494.1,594.2 L503.7,592.2 L513.0,589.8 L522.1,586.9 L530.8,583.7 L539.3,580.1 L547.4,575.9 L555.1,571.1 L562.1,565.2 L568.5,558.7 L574.6,552.3 L580.8,547.1 L587.3,542.6 L592.8,536.8 L597.6,530.4 L602.1,524.0 L606.5,517.9 L610.9,511.9 L615.2,506.0 L619.1,499.9 L622.4,493.5 L625.3,486.9 L627.9,480.3 L630.5,473.9 L632.9,467.4 L634.4,460.6 L635.4,453.8 L636.2,447.0 L636.8,440.3 L637.3,433.7 L637.7,427.1 L638.0,420.6Z" fill="#C39B4B"/>
<path d="M622.1,414.0 L621.9,408.3 L621.6,402.6 L620.9,396.9 L620.1,391.2 L619.0,385.6 L617.6,380.0 L616.1,374.4 L614.3,368.9 L612.3,363.4 L610.1,358.0 L607.6,352.6 L605.0,347.2 L602.2,341.8 L599.3,336.3 L596.2,330.8 L592.9,325.3 L589.4,319.7 L585.5,314.2 L581.2,309.0 L576.4,304.3 L571.4,299.5 L566.4,294.1 L561.2,288.4 L555.7,282.7 L549.5,277.8 L542.9,273.2 L536.0,269.0 L528.7,265.0 L521.0,261.5 L513.0,258.3 L504.7,255.5 L496.1,253.3 L487.3,251.8 L478.3,250.7 L469.1,250.0 L460.2,251.5 L452.0,255.1 L444.4,259.9 L438.0,266.9 L432.5,274.6 L427.7,282.6 L423.5,290.8 L420.0,299.2 L416.7,307.1 L413.2,314.2 L410.1,321.4 L407.4,328.5 L405.3,335.8 L403.8,343.1 L402.5,350.2 L401.4,357.1 L400.3,363.8 L399.3,370.4 L398.6,376.8 L397.9,383.2 L397.4,389.4 L397.0,395.6 L396.6,401.8 L396.4,407.9 L396.3,414.0 L396.3,420.1 L396.5,426.2 L396.7,432.4 L397.1,438.6 L397.7,444.9 L398.3,451.3 L399.1,457.7 L400.1,464.3 L401.2,471.0 L402.5,477.8 L404.0,484.8 L405.7,492.0 L407.5,499.4 L409.3,507.4 L411.6,515.4 L415.1,522.7 L420.1,528.7 L425.5,534.5 L430.1,541.6 L435.1,548.9 L440.9,555.4 L447.8,560.5 L455.3,564.4 L463.3,567.0 L471.5,568.9 L479.9,569.9 L488.4,569.6 L496.8,568.5 L505.0,567.1 L513.0,565.3 L520.8,563.1 L528.4,560.5 L535.7,557.6 L542.8,554.2 L549.5,550.1 L555.7,545.3 L561.3,539.9 L566.7,534.6 L572.1,530.1 L577.7,526.1 L582.5,521.0 L586.8,515.5 L590.8,510.0 L594.6,504.7 L598.4,499.4 L602.1,494.2 L605.4,488.8 L608.3,483.2 L610.8,477.5 L613.1,471.8 L615.3,466.1 L617.3,460.5 L618.7,454.6 L619.6,448.6 L620.3,442.8 L620.9,436.9 L621.4,431.2 L621.8,425.4 L622.0,419.7Z" fill="#B9645F"/>
<path d="M608.8,414.0 L608.7,409.0 L608.3,404.0 L607.8,399.0 L607.1,394.0 L606.1,389.0 L605.0,384.1 L603.7,379.2 L602.2,374.3 L600.4,369.4 L598.5,364.6 L596.4,359.8 L594.1,355.1 L591.7,350.3 L589.1,345.5 L586.4,340.6 L583.4,335.8 L580.3,330.9 L576.8,326.2 L573.0,321.6 L568.7,317.4 L564.3,313.3 L559.9,308.8 L555.2,304.0 L550.3,299.3 L544.8,295.2 L539.0,291.5 L532.9,288.1 L526.6,285.0 L519.9,282.2 L513.0,279.8 L505.9,277.8 L498.5,276.3 L491.1,275.4 L483.4,274.9 L475.7,274.8 L468.3,276.3 L461.3,279.4 L454.9,283.5 L449.4,289.2 L444.6,295.5 L440.4,302.1 L436.6,308.9 L433.5,315.8 L430.5,322.3 L427.4,328.4 L424.6,334.4 L422.2,340.5 L420.3,346.6 L418.8,352.8 L417.6,358.9 L416.4,364.8 L415.4,370.5 L414.5,376.2 L413.7,381.7 L413.1,387.2 L412.6,392.7 L412.2,398.0 L411.8,403.4 L411.6,408.7 L411.6,414.0 L411.6,419.3 L411.7,424.6 L412.0,430.0 L412.4,435.4 L412.9,440.8 L413.6,446.3 L414.3,451.9 L415.2,457.5 L416.3,463.3 L417.5,469.1 L418.9,475.1 L420.6,481.2 L422.3,487.5 L424.0,494.1 L426.2,500.8 L429.3,507.0 L433.5,512.2 L438.1,517.1 L442.2,523.1 L446.5,529.1 L451.6,534.6 L457.4,538.9 L463.7,542.3 L470.5,544.7 L477.5,546.5 L484.6,547.6 L491.8,547.7 L499.0,547.1 L506.1,546.2 L513.0,544.9 L519.8,543.2 L526.4,541.2 L532.8,538.9 L538.9,536.0 L544.8,532.7 L550.3,528.7 L555.3,524.2 L560.1,519.8 L564.9,515.8 L569.7,512.3 L574.0,507.9 L577.8,503.1 L581.3,498.3 L584.7,493.6 L588.0,489.0 L591.2,484.4 L594.1,479.6 L596.6,474.7 L598.8,469.7 L600.7,464.7 L602.7,459.7 L604.4,454.7 L605.6,449.5 L606.5,444.4 L607.2,439.2 L607.7,434.1 L608.2,429.1 L608.5,424.0 L608.7,419.0Z" fill="#B43258"/>
<path d="M601.4,414.0 L601.3,409.4 L601.1,404.7 L600.6,400.1 L599.9,395.5 L599.1,390.9 L598.1,386.4 L596.9,381.8 L595.5,377.3 L593.9,372.8 L592.2,368.3 L590.2,363.8 L588.1,359.4 L585.9,355.0 L583.5,350.5 L580.9,346.1 L578.2,341.6 L575.3,337.1 L572.0,332.7 L568.5,328.6 L564.6,324.7 L560.5,320.9 L556.3,316.8 L552.0,312.5 L547.3,308.4 L542.3,304.8 L536.9,301.6 L531.3,298.6 L525.4,296.0 L519.3,293.7 L513.0,291.7 L506.5,290.1 L499.9,289.0 L493.1,288.4 L486.3,288.2 L479.3,288.4 L472.7,289.9 L466.5,292.8 L460.7,296.5 L455.7,301.5 L451.3,307.1 L447.3,312.9 L443.8,318.8 L440.9,324.9 L438.0,330.8 L435.2,336.2 L432.6,341.6 L430.3,347.1 L428.5,352.6 L427.1,358.2 L425.8,363.7 L424.7,369.0 L423.7,374.2 L422.8,379.4 L422.1,384.4 L421.5,389.5 L420.9,394.4 L420.5,399.4 L420.2,404.2 L420.0,409.1 L419.9,414.0 L420.0,418.9 L420.1,423.8 L420.4,428.7 L420.8,433.6 L421.3,438.6 L421.9,443.6 L422.7,448.7 L423.6,453.8 L424.6,459.0 L425.8,464.4 L427.2,469.7 L428.7,475.2 L430.4,480.9 L432.1,486.8 L434.2,492.8 L437.1,498.3 L440.9,503.0 L445.0,507.6 L448.8,512.9 L452.8,518.3 L457.4,523.1 L462.7,527.0 L468.4,530.2 L474.5,532.5 L480.8,534.2 L487.2,535.4 L493.7,535.6 L500.2,535.3 L506.7,534.7 L513.0,533.7 L519.2,532.3 L525.3,530.6 L531.1,528.5 L536.8,526.1 L542.2,523.1 L547.3,519.6 L552.0,515.6 L556.5,511.6 L560.9,508.0 L565.3,504.7 L569.3,500.7 L572.8,496.3 L576.1,491.9 L579.2,487.6 L582.3,483.3 L585.2,479.0 L587.8,474.6 L590.1,470.0 L592.1,465.4 L593.9,460.7 L595.7,456.1 L597.3,451.5 L598.4,446.8 L599.2,442.0 L599.9,437.3 L600.4,432.6 L600.9,427.9 L601.2,423.3 L601.4,418.6Z" fill="#A00A5A"/>
<path d="M596.1,414.0 L596.0,409.6 L595.8,405.3 L595.3,401.0 L594.7,396.6 L593.9,392.3 L593.0,388.0 L591.9,383.7 L590.6,379.4 L589.2,375.2 L587.5,371.0 L585.7,366.8 L583.8,362.6 L581.7,358.4 L579.4,354.2 L577.0,350.0 L574.4,345.8 L571.6,341.6 L568.6,337.5 L565.2,333.6 L561.5,330.0 L557.6,326.4 L553.7,322.6 L549.6,318.8 L545.1,315.1 L540.4,311.8 L535.3,308.9 L530.1,306.3 L524.6,303.9 L518.9,302.0 L513.0,300.3 L507.0,299.0 L500.8,298.2 L494.6,297.9 L488.3,297.9 L482.0,298.3 L475.9,299.8 L470.2,302.5 L464.9,305.9 L460.3,310.5 L456.1,315.5 L452.4,320.7 L449.1,326.1 L446.2,331.6 L443.5,336.9 L440.8,341.8 L438.4,346.8 L436.3,351.9 L434.5,357.0 L433.1,362.1 L431.8,367.1 L430.7,372.1 L429.7,376.9 L428.8,381.7 L428.1,386.4 L427.5,391.1 L427.0,395.7 L426.6,400.3 L426.3,404.9 L426.1,409.4 L426.1,414.0 L426.1,418.6 L426.3,423.1 L426.5,427.7 L426.9,432.3 L427.4,436.9 L428.0,441.6 L428.8,446.3 L429.6,451.1 L430.6,456.0 L431.8,460.9 L433.2,465.9 L434.7,470.9 L436.3,476.1 L438.0,481.5 L440.0,487.0 L442.8,492.0 L446.3,496.4 L450.1,500.6 L453.6,505.5 L457.4,510.3 L461.7,514.8 L466.5,518.4 L471.8,521.3 L477.4,523.6 L483.2,525.3 L489.1,526.5 L495.1,526.9 L501.1,526.8 L507.1,526.3 L513.0,525.5 L518.8,524.4 L524.4,522.9 L530.0,521.0 L535.3,518.8 L540.4,516.1 L545.2,513.0 L549.6,509.4 L553.8,505.7 L558.0,502.3 L562.2,499.2 L565.9,495.4 L569.2,491.3 L572.3,487.2 L575.3,483.2 L578.1,479.1 L580.8,475.0 L583.3,470.9 L585.4,466.6 L587.3,462.3 L589.0,457.9 L590.7,453.6 L592.1,449.2 L593.2,444.8 L594.0,440.3 L594.6,435.9 L595.2,431.5 L595.6,427.1 L595.9,422.7 L596.1,418.4Z" fill="#820A6E"/>
<path d="M593.5,414.0 L593.4,409.8 L593.1,405.6 L592.7,401.4 L592.1,397.2 L591.4,393.0 L590.5,388.8 L589.4,384.7 L588.2,380.5 L586.8,376.4 L585.2,372.3 L583.5,368.2 L581.6,364.1 L579.6,360.1 L577.4,356.0 L575.0,352.0 L572.5,347.9 L569.8,343.9 L566.8,339.9 L563.6,336.1 L560.0,332.6 L556.2,329.2 L552.4,325.6 L548.4,321.9 L544.1,318.4 L539.4,315.3 L534.6,312.5 L529.5,310.1 L524.1,307.9 L518.7,306.1 L513.0,304.6 L507.2,303.5 L501.3,302.8 L495.4,302.6 L489.4,302.7 L483.3,303.2 L477.5,304.8 L472.1,307.4 L467.0,310.7 L462.5,314.9 L458.5,319.7 L454.9,324.6 L451.7,329.7 L448.9,334.9 L446.3,339.9 L443.7,344.7 L441.3,349.5 L439.2,354.3 L437.5,359.1 L436.1,364.0 L434.8,368.9 L433.7,373.6 L432.8,378.3 L431.9,382.9 L431.2,387.4 L430.6,391.9 L430.1,396.4 L429.7,400.8 L429.4,405.2 L429.2,409.6 L429.1,414.0 L429.2,418.4 L429.3,422.8 L429.6,427.2 L429.9,431.7 L430.4,436.1 L431.1,440.6 L431.8,445.2 L432.7,449.8 L433.7,454.4 L434.8,459.1 L436.1,463.9 L437.6,468.7 L439.3,473.7 L441.0,478.9 L443.0,484.0 L445.6,488.9 L449.0,493.1 L452.6,497.2 L456.0,501.8 L459.7,506.4 L463.8,510.6 L468.4,514.1 L473.5,516.9 L478.8,519.1 L484.4,520.8 L490.0,522.0 L495.8,522.5 L501.6,522.5 L507.3,522.1 L513.0,521.4 L518.6,520.4 L524.0,519.0 L529.4,517.3 L534.5,515.2 L539.4,512.7 L544.1,509.6 L548.4,506.2 L552.5,502.7 L556.6,499.5 L560.6,496.4 L564.1,492.8 L567.4,488.9 L570.4,484.9 L573.3,480.9 L576.0,477.0 L578.6,473.1 L581.0,469.0 L583.1,464.9 L584.9,460.7 L586.5,456.5 L588.1,452.3 L589.5,448.1 L590.6,443.8 L591.3,439.5 L592.0,435.2 L592.5,430.9 L592.9,426.7 L593.2,422.4 L593.4,418.2Z" fill="#A0055A"/>
<path d="M584.8,414.0 L584.7,410.2 L584.5,406.5 L584.2,402.7 L583.7,399.0 L583.0,395.2 L582.3,391.5 L581.4,387.8 L580.3,384.0 L579.1,380.3 L577.7,376.6 L576.2,372.9 L574.6,369.3 L572.7,365.6 L570.8,362.0 L568.7,358.3 L566.4,354.7 L563.9,351.2 L561.2,347.7 L558.2,344.3 L555.0,341.2 L551.7,338.1 L548.1,335.1 L544.5,332.0 L540.6,329.2 L536.4,326.7 L532.0,324.4 L527.5,322.5 L522.8,320.9 L517.9,319.6 L513.0,318.6 L508.0,318.0 L502.9,317.8 L497.8,318.0 L492.7,318.5 L487.6,319.3 L482.7,320.9 L478.1,323.2 L473.8,326.0 L469.9,329.5 L466.4,333.3 L463.2,337.3 L460.3,341.4 L457.7,345.7 L455.2,349.8 L452.9,353.9 L450.8,358.0 L448.8,362.0 L447.2,366.2 L445.8,370.4 L444.6,374.5 L443.5,378.6 L442.6,382.6 L441.7,386.6 L441.0,390.6 L440.4,394.6 L439.9,398.5 L439.5,402.4 L439.3,406.3 L439.1,410.1 L439.0,414.0 L439.1,417.9 L439.2,421.8 L439.5,425.6 L439.9,429.5 L440.3,433.5 L440.9,437.4 L441.7,441.4 L442.5,445.4 L443.5,449.4 L444.6,453.5 L445.9,457.6 L447.3,461.7 L448.9,465.9 L450.5,470.2 L452.4,474.6 L454.8,478.6 L457.7,482.3 L460.8,485.9 L463.8,489.7 L467.1,493.5 L470.7,497.0 L474.7,500.0 L479.0,502.6 L483.6,504.6 L488.3,506.3 L493.1,507.6 L498.1,508.3 L503.1,508.6 L508.0,508.6 L513.0,508.2 L517.9,507.5 L522.7,506.5 L527.4,505.1 L532.0,503.4 L536.4,501.3 L540.6,498.9 L544.5,496.0 L548.2,493.1 L551.9,490.3 L555.4,487.4 L558.6,484.2 L561.5,480.8 L564.3,477.3 L566.8,473.8 L569.3,470.3 L571.5,466.7 L573.6,463.1 L575.4,459.4 L577.1,455.6 L578.5,451.8 L579.9,448.1 L581.1,444.3 L582.0,440.5 L582.8,436.7 L583.4,432.9 L583.9,429.1 L584.3,425.3 L584.6,421.5 L584.8,417.8Z" fill="#7D0A73"/>
<path d="M577.5,414.0 L577.4,410.6 L577.2,407.2 L577.0,403.9 L576.5,400.5 L576.0,397.1 L575.3,393.7 L574.5,390.4 L573.6,387.0 L572.6,383.6 L571.4,380.3 L570.0,377.0 L568.6,373.6 L567.0,370.3 L565.2,367.0 L563.3,363.7 L561.2,360.5 L558.9,357.3 L556.4,354.2 L553.7,351.3 L550.9,348.4 L547.8,345.7 L544.6,343.1 L541.2,340.6 L537.6,338.3 L533.8,336.3 L529.9,334.5 L525.8,333.0 L521.6,331.9 L517.3,331.0 L513.0,330.5 L508.6,330.3 L504.2,330.5 L499.8,331.0 L495.5,331.8 L491.3,332.9 L487.2,334.5 L483.3,336.6 L479.6,339.0 L476.2,341.8 L473.1,344.8 L470.2,348.0 L467.5,351.4 L465.1,354.8 L462.8,358.3 L460.7,361.7 L458.7,365.1 L457.0,368.6 L455.4,372.2 L454.1,375.7 L452.9,379.3 L451.8,382.8 L450.9,386.3 L450.0,389.8 L449.3,393.3 L448.8,396.8 L448.3,400.2 L447.9,403.7 L447.6,407.1 L447.5,410.6 L447.4,414.0 L447.5,417.4 L447.6,420.9 L447.9,424.3 L448.3,427.8 L448.7,431.2 L449.3,434.7 L450.0,438.2 L450.8,441.7 L451.8,445.2 L452.9,448.7 L454.1,452.2 L455.5,455.8 L457.0,459.4 L458.6,462.9 L460.5,466.5 L462.6,470.0 L465.1,473.2 L467.7,476.3 L470.4,479.5 L473.4,482.7 L476.5,485.6 L480.0,488.1 L483.7,490.4 L487.5,492.4 L491.6,494.0 L495.7,495.3 L500.0,496.2 L504.3,496.8 L508.6,497.1 L513.0,497.0 L517.3,496.6 L521.6,495.8 L525.8,494.8 L529.9,493.4 L533.8,491.7 L537.6,489.7 L541.2,487.4 L544.6,485.0 L547.9,482.4 L551.0,479.8 L553.9,477.0 L556.6,474.0 L559.0,470.9 L561.4,467.7 L563.5,464.5 L565.5,461.3 L567.3,458.0 L569.0,454.7 L570.4,451.3 L571.7,447.9 L572.9,444.5 L574.0,441.2 L574.9,437.7 L575.6,434.3 L576.2,430.9 L576.6,427.5 L577.0,424.1 L577.3,420.8 L577.4,417.4Z" fill="#780A78"/>
<path d="M571.5,414.0 L571.4,410.9 L571.3,407.9 L571.0,404.8 L570.7,401.7 L570.2,398.7 L569.6,395.6 L569.0,392.5 L568.2,389.4 L567.2,386.4 L566.2,383.3 L565.0,380.2 L563.7,377.2 L562.2,374.1 L560.6,371.1 L558.8,368.2 L556.9,365.3 L554.8,362.4 L552.5,359.6 L550.1,356.9 L547.4,354.4 L544.6,351.9 L541.6,349.7 L538.5,347.6 L535.2,345.7 L531.7,344.1 L528.1,342.7 L524.5,341.7 L520.7,340.9 L516.9,340.4 L513.0,340.2 L509.1,340.4 L505.3,340.8 L501.5,341.6 L497.8,342.7 L494.3,344.0 L490.8,345.7 L487.5,347.5 L484.3,349.6 L481.3,351.8 L478.5,354.3 L475.9,356.8 L473.4,359.5 L471.1,362.3 L469.0,365.1 L467.0,368.0 L465.3,371.0 L463.6,374.0 L462.2,377.1 L460.8,380.1 L459.6,383.2 L458.6,386.3 L457.7,389.4 L456.9,392.4 L456.2,395.5 L455.6,398.6 L455.1,401.7 L454.8,404.8 L454.5,407.9 L454.4,410.9 L454.3,414.0 L454.4,417.1 L454.5,420.1 L454.8,423.2 L455.1,426.3 L455.6,429.4 L456.2,432.5 L456.9,435.6 L457.7,438.6 L458.6,441.7 L459.6,444.8 L460.8,447.9 L462.2,450.9 L463.6,454.0 L465.3,457.0 L467.0,460.0 L469.0,462.9 L471.1,465.7 L473.4,468.5 L475.9,471.2 L478.5,473.7 L481.3,476.2 L484.3,478.4 L487.5,480.5 L490.8,482.3 L494.3,484.0 L497.8,485.3 L501.5,486.4 L505.3,487.2 L509.1,487.6 L513.0,487.8 L516.9,487.6 L520.7,487.1 L524.5,486.3 L528.1,485.3 L531.7,483.9 L535.2,482.3 L538.5,480.4 L541.6,478.3 L544.6,476.1 L547.4,473.6 L550.1,471.1 L552.5,468.4 L554.8,465.6 L556.9,462.7 L558.8,459.8 L560.6,456.9 L562.2,453.9 L563.7,450.8 L565.0,447.8 L566.2,444.7 L567.2,441.6 L568.2,438.6 L569.0,435.5 L569.6,432.4 L570.2,429.3 L570.7,426.3 L571.0,423.2 L571.3,420.1 L571.4,417.1Z" fill="#ADADFC"/>
</g>
<g clip-path="url(#cr)">
<path d="M638.1,414.0 L637.9,407.5 L637.4,400.9 L636.7,394.4 L635.6,387.9 L634.3,381.5 L632.8,375.1 L630.9,368.7 L628.9,362.4 L626.5,356.2 L623.9,350.0 L621.1,343.8 L618.0,337.7 L614.8,331.5 L611.5,325.3 L608.0,319.0 L604.3,312.6 L600.3,306.2 L595.9,299.9 L591.0,293.9 L585.5,288.4 L579.8,282.9 L574.2,276.6 L568.4,269.7 L562.1,262.8 L555.1,256.8 L547.6,251.2 L539.6,246.0 L531.2,241.1 L522.3,236.6 L513.0,232.4 L503.3,228.7 L493.2,225.7 L482.8,223.4 L472.1,221.7 L461.1,220.3 L450.6,221.8 L440.8,225.9 L431.8,231.6 L424.4,240.1 L418.0,249.4 L412.5,259.2 L407.7,269.1 L403.9,279.3 L400.2,288.7 L396.2,297.2 L392.7,305.7 L389.6,314.1 L387.4,322.7 L385.8,331.4 L384.5,339.8 L383.3,347.9 L382.2,355.8 L381.2,363.4 L380.4,370.9 L379.7,378.3 L379.2,385.6 L378.7,392.7 L378.3,399.8 L378.1,406.9 L378.0,414.0 L378.0,421.1 L378.1,428.2 L378.4,435.3 L378.8,442.5 L379.4,449.8 L380.1,457.2 L380.9,464.7 L381.9,472.4 L383.0,480.2 L384.4,488.2 L386.0,496.5 L387.9,504.9 L389.8,513.8 L391.6,523.3 L394.0,533.0 L398.1,541.6 L404.0,548.6 L410.3,555.3 L415.7,563.8 L421.4,572.7 L428.2,580.4 L436.2,586.5 L445.1,590.9 L454.6,593.7 L464.3,595.7 L474.2,596.6 L484.2,595.8 L494.1,594.2 L503.7,592.2 L513.0,589.8 L522.1,586.9 L530.8,583.7 L539.3,580.1 L547.4,575.9 L555.1,571.1 L562.1,565.2 L568.5,558.7 L574.6,552.3 L580.8,547.1 L587.3,542.6 L592.8,536.8 L597.6,530.4 L602.1,524.0 L606.5,517.9 L610.9,511.9 L615.2,506.0 L619.1,499.9 L622.4,493.5 L625.3,486.9 L627.9,480.3 L630.5,473.9 L632.9,467.4 L634.4,460.6 L635.4,453.8 L636.2,447.0 L636.8,440.3 L637.3,433.7 L637.7,427.1 L638.0,420.6Z" fill="#FA9B1E"/>
<path d="M622.1,414.0 L621.9,408.3 L621.6,402.6 L620.9,396.9 L620.1,391.2 L619.0,385.6 L617.6,380.0 L616.1,374.4 L614.3,368.9 L612.3,363.4 L610.1,358.0 L607.6,352.6 L605.0,347.2 L602.2,341.8 L599.3,336.3 L596.2,330.8 L592.9,325.3 L589.4,319.7 L585.5,314.2 L581.2,309.0 L576.4,304.3 L571.4,299.5 L566.4,294.1 L561.2,288.4 L555.7,282.7 L549.5,277.8 L542.9,273.2 L536.0,269.0 L528.7,265.0 L521.0,261.5 L513.0,258.3 L504.7,255.5 L496.1,253.3 L487.3,251.8 L478.3,250.7 L469.1,250.0 L460.2,251.5 L452.0,255.1 L444.4,259.9 L438.0,266.9 L432.5,274.6 L427.7,282.6 L423.5,290.8 L420.0,299.2 L416.7,307.1 L413.2,314.2 L410.1,321.4 L407.4,328.5 L405.3,335.8 L403.8,343.1 L402.5,350.2 L401.4,357.1 L400.3,363.8 L399.3,370.4 L398.6,376.8 L397.9,383.2 L397.4,389.4 L397.0,395.6 L396.6,401.8 L396.4,407.9 L396.3,414.0 L396.3,420.1 L396.5,426.2 L396.7,432.4 L397.1,438.6 L397.7,444.9 L398.3,451.3 L399.1,457.7 L400.1,464.3 L401.2,471.0 L402.5,477.8 L404.0,484.8 L405.7,492.0 L407.5,499.4 L409.3,507.4 L411.6,515.4 L415.1,522.7 L420.1,528.7 L425.5,534.5 L430.1,541.6 L435.1,548.9 L440.9,555.4 L447.8,560.5 L455.3,564.4 L463.3,567.0 L471.5,568.9 L479.9,569.9 L488.4,569.6 L496.8,568.5 L505.0,567.1 L513.0,565.3 L520.8,563.1 L528.4,560.5 L535.7,557.6 L542.8,554.2 L549.5,550.1 L555.7,545.3 L561.3,539.9 L566.7,534.6 L572.1,530.1 L577.7,526.1 L582.5,521.0 L586.8,515.5 L590.8,510.0 L594.6,504.7 L598.4,499.4 L602.1,494.2 L605.4,488.8 L608.3,483.2 L610.8,477.5 L613.1,471.8 L615.3,466.1 L617.3,460.5 L618.7,454.6 L619.6,448.6 L620.3,442.8 L620.9,436.9 L621.4,431.2 L621.8,425.4 L622.0,419.7Z" fill="#FA6E14"/>
<path d="M608.8,414.0 L608.7,409.0 L608.3,404.0 L607.8,399.0 L607.1,394.0 L606.1,389.0 L605.0,384.1 L603.7,379.2 L602.2,374.3 L600.4,369.4 L598.5,364.6 L596.4,359.8 L594.1,355.1 L591.7,350.3 L589.1,345.5 L586.4,340.6 L583.4,335.8 L580.3,330.9 L576.8,326.2 L573.0,321.6 L568.7,317.4 L564.3,313.3 L559.9,308.8 L555.2,304.0 L550.3,299.3 L544.8,295.2 L539.0,291.5 L532.9,288.1 L526.6,285.0 L519.9,282.2 L513.0,279.8 L505.9,277.8 L498.5,276.3 L491.1,275.4 L483.4,274.9 L475.7,274.8 L468.3,276.3 L461.3,279.4 L454.9,283.5 L449.4,289.2 L444.6,295.5 L440.4,302.1 L436.6,308.9 L433.5,315.8 L430.5,322.3 L427.4,328.4 L424.6,334.4 L422.2,340.5 L420.3,346.6 L418.8,352.8 L417.6,358.9 L416.4,364.8 L415.4,370.5 L414.5,376.2 L413.7,381.7 L413.1,387.2 L412.6,392.7 L412.2,398.0 L411.8,403.4 L411.6,408.7 L411.6,414.0 L411.6,419.3 L411.7,424.6 L412.0,430.0 L412.4,435.4 L412.9,440.8 L413.6,446.3 L414.3,451.9 L415.2,457.5 L416.3,463.3 L417.5,469.1 L418.9,475.1 L420.6,481.2 L422.3,487.5 L424.0,494.1 L426.2,500.8 L429.3,507.0 L433.5,512.2 L438.1,517.1 L442.2,523.1 L446.5,529.1 L451.6,534.6 L457.4,538.9 L463.7,542.3 L470.5,544.7 L477.5,546.5 L484.6,547.6 L491.8,547.7 L499.0,547.1 L506.1,546.2 L513.0,544.9 L519.8,543.2 L526.4,541.2 L532.8,538.9 L538.9,536.0 L544.8,532.7 L550.3,528.7 L555.3,524.2 L560.1,519.8 L564.9,515.8 L569.7,512.3 L574.0,507.9 L577.8,503.1 L581.3,498.3 L584.7,493.6 L588.0,489.0 L591.2,484.4 L594.1,479.6 L596.6,474.7 L598.8,469.7 L600.7,464.7 L602.7,459.7 L604.4,454.7 L605.6,449.5 L606.5,444.4 L607.2,439.2 L607.7,434.1 L608.2,429.1 L608.5,424.0 L608.7,419.0Z" fill="#F8410A"/>
<path d="M601.4,414.0 L601.3,409.4 L601.1,404.7 L600.6,400.1 L599.9,395.5 L599.1,390.9 L598.1,386.4 L596.9,381.8 L595.5,377.3 L593.9,372.8 L592.2,368.3 L590.2,363.8 L588.1,359.4 L585.9,355.0 L583.5,350.5 L580.9,346.1 L578.2,341.6 L575.3,337.1 L572.0,332.7 L568.5,328.6 L564.6,324.7 L560.5,320.9 L556.3,316.8 L552.0,312.5 L547.3,308.4 L542.3,304.8 L536.9,301.6 L531.3,298.6 L525.4,296.0 L519.3,293.7 L513.0,291.7 L506.5,290.1 L499.9,289.0 L493.1,288.4 L486.3,288.2 L479.3,288.4 L472.7,289.9 L466.5,292.8 L460.7,296.5 L455.7,301.5 L451.3,307.1 L447.3,312.9 L443.8,318.8 L440.9,324.9 L438.0,330.8 L435.2,336.2 L432.6,341.6 L430.3,347.1 L428.5,352.6 L427.1,358.2 L425.8,363.7 L424.7,369.0 L423.7,374.2 L422.8,379.4 L422.1,384.4 L421.5,389.5 L420.9,394.4 L420.5,399.4 L420.2,404.2 L420.0,409.1 L419.9,414.0 L420.0,418.9 L420.1,423.8 L420.4,428.7 L420.8,433.6 L421.3,438.6 L421.9,443.6 L422.7,448.7 L423.6,453.8 L424.6,459.0 L425.8,464.4 L427.2,469.7 L428.7,475.2 L430.4,480.9 L432.1,486.8 L434.2,492.8 L437.1,498.3 L440.9,503.0 L445.0,507.6 L448.8,512.9 L452.8,518.3 L457.4,523.1 L462.7,527.0 L468.4,530.2 L474.5,532.5 L480.8,534.2 L487.2,535.4 L493.7,535.6 L500.2,535.3 L506.7,534.7 L513.0,533.7 L519.2,532.3 L525.3,530.6 L531.1,528.5 L536.8,526.1 L542.2,523.1 L547.3,519.6 L552.0,515.6 L556.5,511.6 L560.9,508.0 L565.3,504.7 L569.3,500.7 L572.8,496.3 L576.1,491.9 L579.2,487.6 L582.3,483.3 L585.2,479.0 L587.8,474.6 L590.1,470.0 L592.1,465.4 L593.9,460.7 L595.7,456.1 L597.3,451.5 L598.4,446.8 L599.2,442.0 L599.9,437.3 L600.4,432.6 L600.9,427.9 L601.2,423.3 L601.4,418.6Z" fill="#F01905"/>
<path d="M596.1,414.0 L596.0,409.6 L595.8,405.3 L595.3,401.0 L594.7,396.6 L593.9,392.3 L593.0,388.0 L591.9,383.7 L590.6,379.4 L589.2,375.2 L587.5,371.0 L585.7,366.8 L583.8,362.6 L581.7,358.4 L579.4,354.2 L577.0,350.0 L574.4,345.8 L571.6,341.6 L568.6,337.5 L565.2,333.6 L561.5,330.0 L557.6,326.4 L553.7,322.6 L549.6,318.8 L545.1,315.1 L540.4,311.8 L535.3,308.9 L530.1,306.3 L524.6,303.9 L518.9,302.0 L513.0,300.3 L507.0,299.0 L500.8,298.2 L494.6,297.9 L488.3,297.9 L482.0,298.3 L475.9,299.8 L470.2,302.5 L464.9,305.9 L460.3,310.5 L456.1,315.5 L452.4,320.7 L449.1,326.1 L446.2,331.6 L443.5,336.9 L440.8,341.8 L438.4,346.8 L436.3,351.9 L434.5,357.0 L433.1,362.1 L431.8,367.1 L430.7,372.1 L429.7,376.9 L428.8,381.7 L428.1,386.4 L427.5,391.1 L427.0,395.7 L426.6,400.3 L426.3,404.9 L426.1,409.4 L426.1,414.0 L426.1,418.6 L426.3,423.1 L426.5,427.7 L426.9,432.3 L427.4,436.9 L428.0,441.6 L428.8,446.3 L429.6,451.1 L430.6,456.0 L431.8,460.9 L433.2,465.9 L434.7,470.9 L436.3,476.1 L438.0,481.5 L440.0,487.0 L442.8,492.0 L446.3,496.4 L450.1,500.6 L453.6,505.5 L457.4,510.3 L461.7,514.8 L466.5,518.4 L471.8,521.3 L477.4,523.6 L483.2,525.3 L489.1,526.5 L495.1,526.9 L501.1,526.8 L507.1,526.3 L513.0,525.5 L518.8,524.4 L524.4,522.9 L530.0,521.0 L535.3,518.8 L540.4,516.1 L545.2,513.0 L549.6,509.4 L553.8,505.7 L558.0,502.3 L562.2,499.2 L565.9,495.4 L569.2,491.3 L572.3,487.2 L575.3,483.2 L578.1,479.1 L580.8,475.0 L583.3,470.9 L585.4,466.6 L587.3,462.3 L589.0,457.9 L590.7,453.6 L592.1,449.2 L593.2,444.8 L594.0,440.3 L594.6,435.9 L595.2,431.5 L595.6,427.1 L595.9,422.7 L596.1,418.4Z" fill="#E60808"/>
<path d="M593.5,414.0 L593.4,409.8 L593.1,405.6 L592.7,401.4 L592.1,397.2 L591.4,393.0 L590.5,388.8 L589.4,384.7 L588.2,380.5 L586.8,376.4 L585.2,372.3 L583.5,368.2 L581.6,364.1 L579.6,360.1 L577.4,356.0 L575.0,352.0 L572.5,347.9 L569.8,343.9 L566.8,339.9 L563.6,336.1 L560.0,332.6 L556.2,329.2 L552.4,325.6 L548.4,321.9 L544.1,318.4 L539.4,315.3 L534.6,312.5 L529.5,310.1 L524.1,307.9 L518.7,306.1 L513.0,304.6 L507.2,303.5 L501.3,302.8 L495.4,302.6 L489.4,302.7 L483.3,303.2 L477.5,304.8 L472.1,307.4 L467.0,310.7 L462.5,314.9 L458.5,319.7 L454.9,324.6 L451.7,329.7 L448.9,334.9 L446.3,339.9 L443.7,344.7 L441.3,349.5 L439.2,354.3 L437.5,359.1 L436.1,364.0 L434.8,368.9 L433.7,373.6 L432.8,378.3 L431.9,382.9 L431.2,387.4 L430.6,391.9 L430.1,396.4 L429.7,400.8 L429.4,405.2 L429.2,409.6 L429.1,414.0 L429.2,418.4 L429.3,422.8 L429.6,427.2 L429.9,431.7 L430.4,436.1 L431.1,440.6 L431.8,445.2 L432.7,449.8 L433.7,454.4 L434.8,459.1 L436.1,463.9 L437.6,468.7 L439.3,473.7 L441.0,478.9 L443.0,484.0 L445.6,488.9 L449.0,493.1 L452.6,497.2 L456.0,501.8 L459.7,506.4 L463.8,510.6 L468.4,514.1 L473.5,516.9 L478.8,519.1 L484.4,520.8 L490.0,522.0 L495.8,522.5 L501.6,522.5 L507.3,522.1 L513.0,521.4 L518.6,520.4 L524.0,519.0 L529.4,517.3 L534.5,515.2 L539.4,512.7 L544.1,509.6 L548.4,506.2 L552.5,502.7 L556.6,499.5 L560.6,496.4 L564.1,492.8 L567.4,488.9 L570.4,484.9 L573.3,480.9 L576.0,477.0 L578.6,473.1 L581.0,469.0 L583.1,464.9 L584.9,460.7 L586.5,456.5 L588.1,452.3 L589.5,448.1 L590.6,443.8 L591.3,439.5 L592.0,435.2 L592.5,430.9 L592.9,426.7 L593.2,422.4 L593.4,418.2Z" fill="#E40505"/>
<path d="M584.8,414.0 L584.7,410.2 L584.5,406.5 L584.2,402.7 L583.7,399.0 L583.0,395.2 L582.3,391.5 L581.4,387.8 L580.3,384.0 L579.1,380.3 L577.7,376.6 L576.2,372.9 L574.6,369.3 L572.7,365.6 L570.8,362.0 L568.7,358.3 L566.4,354.7 L563.9,351.2 L561.2,347.7 L558.2,344.3 L555.0,341.2 L551.7,338.1 L548.1,335.1 L544.5,332.0 L540.6,329.2 L536.4,326.7 L532.0,324.4 L527.5,322.5 L522.8,320.9 L517.9,319.6 L513.0,318.6 L508.0,318.0 L502.9,317.8 L497.8,318.0 L492.7,318.5 L487.6,319.3 L482.7,320.9 L478.1,323.2 L473.8,326.0 L469.9,329.5 L466.4,333.3 L463.2,337.3 L460.3,341.4 L457.7,345.7 L455.2,349.8 L452.9,353.9 L450.8,358.0 L448.8,362.0 L447.2,366.2 L445.8,370.4 L444.6,374.5 L443.5,378.6 L442.6,382.6 L441.7,386.6 L441.0,390.6 L440.4,394.6 L439.9,398.5 L439.5,402.4 L439.3,406.3 L439.1,410.1 L439.0,414.0 L439.1,417.9 L439.2,421.8 L439.5,425.6 L439.9,429.5 L440.3,433.5 L440.9,437.4 L441.7,441.4 L442.5,445.4 L443.5,449.4 L444.6,453.5 L445.9,457.6 L447.3,461.7 L448.9,465.9 L450.5,470.2 L452.4,474.6 L454.8,478.6 L457.7,482.3 L460.8,485.9 L463.8,489.7 L467.1,493.5 L470.7,497.0 L474.7,500.0 L479.0,502.6 L483.6,504.6 L488.3,506.3 L493.1,507.6 L498.1,508.3 L503.1,508.6 L508.0,508.6 L513.0,508.2 L517.9,507.5 L522.7,506.5 L527.4,505.1 L532.0,503.4 L536.4,501.3 L540.6,498.9 L544.5,496.0 L548.2,493.1 L551.9,490.3 L555.4,487.4 L558.6,484.2 L561.5,480.8 L564.3,477.3 L566.8,473.8 L569.3,470.3 L571.5,466.7 L573.6,463.1 L575.4,459.4 L577.1,455.6 L578.5,451.8 L579.9,448.1 L581.1,444.3 L582.0,440.5 L582.8,436.7 L583.4,432.9 L583.9,429.1 L584.3,425.3 L584.6,421.5 L584.8,417.8Z" fill="#D7000A"/>
<path d="M577.5,414.0 L577.4,410.6 L577.2,407.2 L577.0,403.9 L576.5,400.5 L576.0,397.1 L575.3,393.7 L574.5,390.4 L573.6,387.0 L572.6,383.6 L571.4,380.3 L570.0,377.0 L568.6,373.6 L567.0,370.3 L565.2,367.0 L563.3,363.7 L561.2,360.5 L558.9,357.3 L556.4,354.2 L553.7,351.3 L550.9,348.4 L547.8,345.7 L544.6,343.1 L541.2,340.6 L537.6,338.3 L533.8,336.3 L529.9,334.5 L525.8,333.0 L521.6,331.9 L517.3,331.0 L513.0,330.5 L508.6,330.3 L504.2,330.5 L499.8,331.0 L495.5,331.8 L491.3,332.9 L487.2,334.5 L483.3,336.6 L479.6,339.0 L476.2,341.8 L473.1,344.8 L470.2,348.0 L467.5,351.4 L465.1,354.8 L462.8,358.3 L460.7,361.7 L458.7,365.1 L457.0,368.6 L455.4,372.2 L454.1,375.7 L452.9,379.3 L451.8,382.8 L450.9,386.3 L450.0,389.8 L449.3,393.3 L448.8,396.8 L448.3,400.2 L447.9,403.7 L447.6,407.1 L447.5,410.6 L447.4,414.0 L447.5,417.4 L447.6,420.9 L447.9,424.3 L448.3,427.8 L448.7,431.2 L449.3,434.7 L450.0,438.2 L450.8,441.7 L451.8,445.2 L452.9,448.7 L454.1,452.2 L455.5,455.8 L457.0,459.4 L458.6,462.9 L460.5,466.5 L462.6,470.0 L465.1,473.2 L467.7,476.3 L470.4,479.5 L473.4,482.7 L476.5,485.6 L480.0,488.1 L483.7,490.4 L487.5,492.4 L491.6,494.0 L495.7,495.3 L500.0,496.2 L504.3,496.8 L508.6,497.1 L513.0,497.0 L517.3,496.6 L521.6,495.8 L525.8,494.8 L529.9,493.4 L533.8,491.7 L537.6,489.7 L541.2,487.4 L544.6,485.0 L547.9,482.4 L551.0,479.8 L553.9,477.0 L556.6,474.0 L559.0,470.9 L561.4,467.7 L563.5,464.5 L565.5,461.3 L567.3,458.0 L569.0,454.7 L570.4,451.3 L571.7,447.9 L572.9,444.5 L574.0,441.2 L574.9,437.7 L575.6,434.3 L576.2,430.9 L576.6,427.5 L577.0,424.1 L577.3,420.8 L577.4,417.4Z" fill="#DE0505"/>
<path d="M571.5,414.0 L571.4,410.9 L571.3,407.9 L571.0,404.8 L570.7,401.7 L570.2,398.7 L569.6,395.6 L569.0,392.5 L568.2,389.4 L567.2,386.4 L566.2,383.3 L565.0,380.2 L563.7,377.2 L562.2,374.1 L560.6,371.1 L558.8,368.2 L556.9,365.3 L554.8,362.4 L552.5,359.6 L550.1,356.9 L547.4,354.4 L544.6,351.9 L541.6,349.7 L538.5,347.6 L535.2,345.7 L531.7,344.1 L528.1,342.7 L524.5,341.7 L520.7,340.9 L516.9,340.4 L513.0,340.2 L509.1,340.4 L505.3,340.8 L501.5,341.6 L497.8,342.7 L494.3,344.0 L490.8,345.7 L487.5,347.5 L484.3,349.6 L481.3,351.8 L478.5,354.3 L475.9,356.8 L473.4,359.5 L471.1,362.3 L469.0,365.1 L467.0,368.0 L465.3,371.0 L463.6,374.0 L462.2,377.1 L460.8,380.1 L459.6,383.2 L458.6,386.3 L457.7,389.4 L456.9,392.4 L456.2,395.5 L455.6,398.6 L455.1,401.7 L454.8,404.8 L454.5,407.9 L454.4,410.9 L454.3,414.0 L454.4,417.1 L454.5,420.1 L454.8,423.2 L455.1,426.3 L455.6,429.4 L456.2,432.5 L456.9,435.6 L457.7,438.6 L458.6,441.7 L459.6,444.8 L460.8,447.9 L462.2,450.9 L463.6,454.0 L465.3,457.0 L467.0,460.0 L469.0,462.9 L471.1,465.7 L473.4,468.5 L475.9,471.2 L478.5,473.7 L481.3,476.2 L484.3,478.4 L487.5,480.5 L490.8,482.3 L494.3,484.0 L497.8,485.3 L501.5,486.4 L505.3,487.2 L509.1,487.6 L513.0,487.8 L516.9,487.6 L520.7,487.1 L524.5,486.3 L528.1,485.3 L531.7,483.9 L535.2,482.3 L538.5,480.4 L541.6,478.3 L544.6,476.1 L547.4,473.6 L550.1,471.1 L552.5,468.4 L554.8,465.6 L556.9,462.7 L558.8,459.8 L560.6,456.9 L562.2,453.9 L563.7,450.8 L565.0,447.8 L566.2,444.7 L567.2,441.6 L568.2,438.6 L569.0,435.5 L569.6,432.4 L570.2,429.3 L570.7,426.3 L571.0,423.2 L571.3,420.1 L571.4,417.1Z" fill="#FFA8A0"/>
</g>
<path d="M352.5,278.00L748.3,282.00M352.5,280.69L748.3,284.37M352.5,283.39L748.3,286.74M352.5,286.08L748.3,289.11M352.5,288.77L748.3,291.48M352.5,291.47L748.3,293.85M352.5,294.16L748.3,296.23M352.5,296.85L748.3,298.60M352.5,299.55L748.3,300.97M352.5,302.24L748.3,303.34M352.5,304.94L748.3,305.71M352.5,307.63L748.3,308.08M352.5,310.32L748.3,310.45M352.5,313.02L748.3,312.82M352.5,315.71L748.3,315.19M352.5,318.40L748.3,317.56M352.5,321.10L748.3,319.94M352.5,323.79L748.3,322.31M352.5,326.48L748.3,324.68M352.5,329.18L748.3,327.05M352.5,331.87L748.3,329.42M352.5,334.56L748.3,331.79M352.5,337.26L748.3,334.16M352.5,339.95L748.3,336.53M352.5,342.65L748.3,338.90M352.5,345.34L748.3,341.27M352.5,348.03L748.3,343.65M352.5,350.73L748.3,346.02M352.5,353.42L748.3,348.39M352.5,356.11L748.3,350.76M352.5,358.81L748.3,353.13M352.5,361.50L748.3,355.50M352.5,364.19L748.3,357.87M352.5,366.89L748.3,360.24M352.5,369.58L748.3,362.61M352.5,372.27L748.3,364.98M352.5,374.97L748.3,367.35M352.5,377.66L748.3,369.73M352.5,380.35L748.3,372.10M352.5,383.05L748.3,374.47M352.5,385.74L748.3,376.84M352.5,388.44L748.3,379.21M352.5,391.13L748.3,381.58M352.5,393.82L748.3,383.95M352.5,396.52L748.3,386.32M352.5,399.21L748.3,388.69M352.5,401.90L748.3,391.06M352.5,404.60L748.3,393.44M352.5,407.29L748.3,395.81M352.5,409.98L748.3,398.18M352.5,412.68L748.3,400.55M352.5,415.37L748.3,402.92M352.5,418.06L748.3,405.29M352.5,420.76L748.3,407.66M352.5,423.45L748.3,410.03M352.5,426.15L748.3,412.40M352.5,428.84L748.3,414.77M352.5,431.53L748.3,417.15M352.5,434.23L748.3,419.52M352.5,436.92L748.3,421.89M352.5,439.61L748.3,424.26M352.5,442.31L748.3,426.63M352.5,445.00L748.3,429.00" stroke="rgba(20,20,180,0.6)" stroke-width="0.90" fill="none"/>
<path d="M352.5,445.00L748.3,429.00M352.5,447.43L748.3,431.06M352.5,449.85L748.3,433.12M352.5,452.28L748.3,435.19M352.5,454.71L748.3,437.25M352.5,457.14L748.3,439.31M352.5,459.56L748.3,441.38M352.5,461.99L748.3,443.44M352.5,464.42L748.3,445.50M352.5,466.84L748.3,447.56M352.5,469.27L748.3,449.62M352.5,471.70L748.3,451.69M352.5,474.12L748.3,453.75M352.5,476.55L748.3,455.81M352.5,478.98L748.3,457.88M352.5,481.41L748.3,459.94M352.5,483.83L748.3,462.00M352.5,486.26L748.3,464.06M352.5,488.69L748.3,466.12M352.5,491.11L748.3,468.19M352.5,493.54L748.3,470.25M352.5,495.97L748.3,472.31M352.5,498.40L748.3,474.38M352.5,500.82L748.3,476.44M352.5,503.25L748.3,478.50M352.5,505.68L748.3,480.56M352.5,508.10L748.3,482.62M352.5,510.53L748.3,484.69M352.5,512.96L748.3,486.75M352.5,515.39L748.3,488.81M352.5,517.81L748.3,490.88M352.5,520.24L748.3,492.94M352.5,522.67L748.3,495.00M352.5,525.09L748.3,497.06M352.5,527.52L748.3,499.12M352.5,529.95L748.3,501.19M352.5,532.38L748.3,503.25M352.5,534.80L748.3,505.31M352.5,537.23L748.3,507.38M352.5,539.66L748.3,509.44M352.5,542.08L748.3,511.50M352.5,544.51L748.3,513.56M352.5,546.94L748.3,515.62M352.5,549.36L748.3,517.69M352.5,551.79L748.3,519.75M352.5,554.22L748.3,521.81M352.5,556.65L748.3,523.88M352.5,559.07L748.3,525.94M352.5,561.50L748.3,528.00" stroke="rgba(200,30,30,0.45)" stroke-width="0.90" fill="none"/>
<circle cx="514.4" cy="414.3" r="3" fill="none" stroke="#8B2A8B" stroke-width="0.9"/>
<path d="M361.0,236.16 L747.0,365.86 L747.0,374.94 L361.0,245.24 Z" fill="#05F0FF"/>
<path d="M353.5,365.13 L747.0,429.63 L747.0,439.97 L353.5,375.47 Z" fill="#0AAA3C"/>
<path d="M353.5,432.49 L743.0,459.79 L743.0,469.81 L353.5,442.51 Z" fill="#FA00FA"/>
<path d="M353.5,509.80 L747.0,504.60 L747.0,513.80 L353.5,519.00 Z" fill="#732887"/>
<line x1="199.3" y1="188.8" x2="340.2" y2="236.1" stroke="#05F0FF" stroke-width="5.5"/>
<path d="M353.4,240.5 L327.6,241.9 L339.3,235.8 L333.7,223.9 Z" fill="#05F0FF"/>
<line x1="181.0" y1="339.7" x2="327.0" y2="363.7" stroke="#0AAA3C" stroke-width="5.5"/>
<path d="M340.7,365.9 L315.5,371.4 L326.0,363.5 L318.6,352.6 Z" fill="#0AAA3C"/>
<line x1="185.5" y1="515.5" x2="333.4" y2="446.8" stroke="#FA00FA" stroke-width="5.5"/>
<path d="M346.0,440.9 L328.2,459.6 L332.5,447.2 L320.2,442.4 Z" fill="#FA00FA"/>
<line x1="189.7" y1="584.4" x2="335.1" y2="525.0" stroke="#732887" stroke-width="5.5"/>
<path d="M348.0,519.8 L329.4,537.7 L334.2,525.4 L322.2,520.1 Z" fill="#732887"/>
<line x1="923.5" y1="180.9" x2="580.7" y2="323.0" stroke="#000" stroke-width="2.6" stroke-dasharray="6.5,2.5,3,2.5"/>
<path d="M571.5,326.8 L578.9,318.5 L578.0,324.1 L582.6,327.4 Z" fill="#000"/>
<line x1="925.8" y1="259.3" x2="570.3" y2="336.4" stroke="#000" stroke-width="2.6" stroke-dasharray="6.5,2.5,3,2.5"/>
<path d="M560.5,338.5 L569.3,331.7 L567.3,337.0 L571.3,341.1 Z" fill="#000"/>
<line x1="925.8" y1="322.0" x2="558.0" y2="350.2" stroke="#000" stroke-width="2.6" stroke-dasharray="6.5,2.5,3,2.5"/>
<path d="M548.0,351.0 L557.6,345.4 L555.0,350.5 L558.3,355.0 Z" fill="#000"/>
<line x1="916.6" y1="565.3" x2="523.0" y2="542.9" stroke="#000" stroke-width="2.6" stroke-dasharray="6.5,2.5,3,2.5"/>
<path d="M513.0,542.3 L523.3,538.1 L520.0,542.7 L522.7,547.7 Z" fill="#000"/>
<line x1="917.4" y1="629.6" x2="515.5" y2="564.2" stroke="#000" stroke-width="2.6" stroke-dasharray="6.5,2.5,3,2.5"/>
<path d="M505.6,562.6 L516.2,559.5 L512.5,563.7 L514.7,568.9 Z" fill="#000"/>
<line x1="915.2" y1="695.5" x2="501.3" y2="589.7" stroke="#000" stroke-width="2.6" stroke-dasharray="6.5,2.5,3,2.5"/>
<path d="M491.6,587.2 L502.5,585.0 L498.4,588.9 L500.1,594.3 Z" fill="#000"/>
<line x1="771.5" y1="300.1" x2="771.5" y2="413.8" stroke="#0A0ADC" stroke-width="4.4"/>
<path d="M771.5,284.6 L779.1,303.1 L771.5,300.1 L763.9,303.1 Z" fill="#0A0ADC"/>
<path d="M771.5,429.3 L779.1,410.8 L771.5,413.8 L763.9,410.8 Z" fill="#0A0ADC"/>
<line x1="759.6" y1="397.8" x2="759.6" y2="512.0" stroke="#F80A0A" stroke-width="4.4"/>
<path d="M759.6,382.3 L767.2,400.8 L759.6,397.8 L752.0,400.8 Z" fill="#F80A0A"/>
<path d="M759.6,527.5 L767.2,509.0 L759.6,512.0 L752.0,509.0 Z" fill="#F80A0A"/>
<text x="350.7" y="24.8" font-size="32.9" fill="#000">EAST plasma with USN</text>
<text x="251.4" y="114.2" font-size="30.5" fill="#000">1.0</text>
<text x="251.4" y="272.8" font-size="30.5" fill="#000">0.5</text>
<text x="276.7" y="430.6" font-size="30.5" fill="#000">0</text>
<text x="241.4" y="590.3" font-size="30.5" fill="#000">-0.5</text>
<text x="241.4" y="748.8" font-size="30.5" fill="#000">-1.0</text>
<text x="376.7" y="839.4" font-size="30.5" fill="#000">1.5</text>
<text x="534.7" y="839.4" font-size="30.5" fill="#000">2.0</text>
<text x="693.1" y="839.4" font-size="30.5" fill="#000">2.5</text>
<text x="469.0" y="881.0" font-size="33.0" fill="#000">R</text>
<text x="510.6" y="881.0" font-size="33.0" fill="#000">(</text>
<text x="530.1" y="881.0" font-size="33.0" fill="#000">m</text>
<text x="570.4" y="881.0" font-size="33.0" fill="#000">)</text>
<g transform="translate(230.8,419) rotate(-90)">
<text x="-51.7" y="0" font-size="33">Z</text>
<text x="-14.0" y="0" font-size="33">(</text>
<text x="5.5" y="0" font-size="33">m</text>
<text x="44.0" y="0" font-size="33">)</text>
</g>
<text x="1.8" y="189.6" font-size="29.7" fill="#12DCEB" font-weight="bold">EUV_Long_c</text>
<text x="2.4" y="231.0" font-size="29.7" fill="#12DCEB" font-weight="bold">(160-385 Å)</text>
<text x="2.1" y="323.9" font-size="29.7" fill="#0FA546" font-weight="bold">EUV_Short</text>
<text x="2.7" y="364.9" font-size="29.7" fill="#0FA546" font-weight="bold">(5-50 Å)</text>
<text x="1.2" y="492.3" font-size="29.7" fill="#F00AF0" font-weight="bold">EUV_Long_a</text>
<text x="1.8" y="533.0" font-size="29.7" fill="#F00AF0" font-weight="bold">(40-180 Å)</text>
<text x="0.5" y="625.0" font-size="29.7" fill="#74288A" font-weight="bold">EUV_Long_b</text>
<text x="1.1" y="665.8" font-size="29.7" fill="#74288A" font-weight="bold">(245-500 Å)</text>
<text x="790.0" y="374.6" font-size="29.7" fill="#1414D2" font-weight="bold">EUV_Long2_u</text>
<text x="790.2" y="414.9" font-size="29.7" fill="#1414D2" font-weight="bold">(45-140 Å)</text>
<text x="785.5" y="477.8" font-size="29.7" fill="#E81414" font-weight="bold">EUV_Long2_d</text>
<text x="794.2" y="518.5" font-size="29.7" fill="#E81414" font-weight="bold">(45-140 Å)</text>
<text x="943.0" y="187.7" font-size="29.7" fill="#EE3010" font-weight="bold">C</text>
<text x="966.0" y="173.2" font-size="23.4" fill="#EE3010" font-weight="bold">5+</text>
<text x="944.2" y="266.3" font-size="29.7" fill="#C00008" font-weight="bold">Cu</text>
<text x="985.0" y="251.4" font-size="23.4" fill="#C00008" font-weight="bold">17+</text>
<text x="945.8" y="328.5" font-size="29.7" fill="#B4000A" font-weight="bold">W</text>
<text x="975.0" y="313.7" font-size="23.4" fill="#B4000A" font-weight="bold">27+</text>
<text x="937.2" y="574.9" font-size="29.7" fill="#F06414" font-weight="bold">Mo</text>
<text x="981.9" y="559.6" font-size="23.4" fill="#F06414" font-weight="bold">13+</text>
<text x="939.0" y="635.8" font-size="29.7" fill="#F58C14" font-weight="bold">Mo</text>
<text x="983.7" y="621.0" font-size="23.4" fill="#F58C14" font-weight="bold">12+</text>
<text x="937.3" y="704.9" font-size="29.7" fill="#F8C814" font-weight="bold">Fe</text>
<text x="973.0" y="690.0" font-size="23.4" fill="#F8C814" font-weight="bold">8+</text>
<text x="486.4" y="84.5" font-size="22.2" fill="#000" font-weight="bold">Upper W</text>
<text x="486.8" y="114.6" font-size="22.2" fill="#000" font-weight="bold">divertor</text>
<text x="496.4" y="730.5" font-size="22.2" fill="#000" font-weight="bold">Lower W</text>
<text x="497.1" y="760.8" font-size="22.2" fill="#000" font-weight="bold">divertor</text>
<text class="b" font-size="26" font-weight="bold" fill="#6DAA32" transform="translate(449.1,157.9) rotate(37)">LCFS</text>
</svg>
</body></html>
